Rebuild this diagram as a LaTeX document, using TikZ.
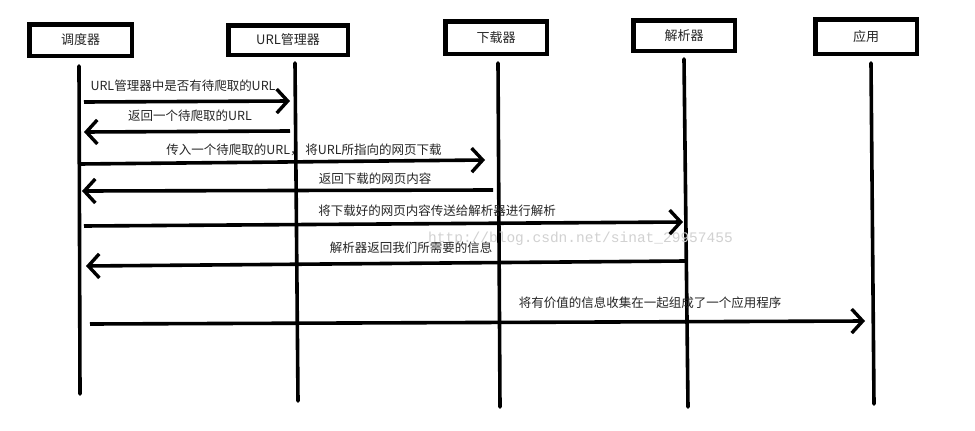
\documentclass[tikz,border=0pt]{standalone}
\usepackage{fontspec}
\setmainfont{Noto Sans CJK SC}
\newfontfamily\wmfont{Liberation Mono}
\usetikzlibrary{arrows.meta}
\tikzset{
  actor/.style={draw=black, line width=4.5pt, fill=white, inner sep=0pt, font=\fontsize{13}{15}\selectfont, text=black!85},
  lifeline/.style={line width=3.6pt, line cap=round},
  msg/.style={line width=3.6pt, -{Straight Barb[length=11pt,width=24pt,line width=3.4pt]}},
  msglabel/.style={font=\fontsize{12.5}{14}\selectfont, text=black!85, inner sep=0pt}
}
\begin{document}
\begin{tikzpicture}[x=1pt,y=-1pt]
\useasboundingbox[fill=white] (0,0) rectangle (975,431);
% actors
\node[actor, minimum width=102.5pt, minimum height=31.5pt] (s) at (80.5,40) {调度器};
\node[actor, minimum width=119.5pt, minimum height=29.5pt] (u) at (288,40) {URL管理器};
\node[actor, minimum width=101.5pt, minimum height=32.5pt] (d) at (496,37.5) {下载器};
\node[actor, minimum width=101.5pt, minimum height=30.5pt] (p) at (684,35.5) {解析器};
\node[actor, minimum width=101.5pt, minimum height=34.5pt] (a) at (866,36.5) {应用};
% lifelines
\coordinate (s1) at (79,66);  \coordinate (s2) at (80,394);
\coordinate (u1) at (295,63); \coordinate (u2) at (298,401);
\coordinate (d1) at (498,63); \coordinate (d2) at (500,407);
\coordinate (p1) at (684,59); \coordinate (p2) at (688,407);
\coordinate (a1) at (871,63); \coordinate (a2) at (874,404);
\draw[lifeline] (s1) -- (s2);
\draw[lifeline] (u1) -- (u2);
\draw[lifeline] (d1) -- (d2);
\draw[lifeline] (p1) -- (p2);
\draw[lifeline] (a1) -- (a2);
% watermark
\node[font=\wmfont\fontsize{14.5}{16}\selectfont, text=black!18, anchor=west, inner sep=0pt] (wm) at (428,239) {http://blog.csdn.net/sinat\_29957455};
% messages
\coordinate (m1a) at (84,102);  \coordinate (m1b) at (290,101);
\coordinate (m2a) at (290,131); \coordinate (m2b) at (84,132);
\coordinate (m3a) at (80,164);  \coordinate (m3b) at (485,160);
\coordinate (m4a) at (493,190); \coordinate (m4b) at (82,191);
\coordinate (m5a) at (84,226);  \coordinate (m5b) at (683,222);
\coordinate (m6a) at (685,261); \coordinate (m6b) at (86,266);
\coordinate (m7a) at (90,324);  \coordinate (m7b) at (865,321);
\draw[msg] (m1a) -- (m1b);
\draw[msg] (m2a) -- (m2b);
\draw[msg] (m3a) -- (m3b);
\draw[msg] (m4a) -- (m4b);
\draw[msg] (m5a) -- (m5b);
\draw[msg] (m6a) -- (m6b);
\draw[msg] (m7a) -- (m7b);
% labels
\node[msglabel] (l1) at (183,86) {URL管理器中是否有待爬取的URL};
\node[msglabel] (l2) at (190,116) {返回一个待爬取的URL};
\node[msglabel] (l3) at (304,150) {传入一个待爬取的URL，\ 将URL所指向的网页下载};
\node[msglabel] (l4) at (375,179) {返回下载的网页内容};
\node[msglabel] (l5) at (437,211) {将下载好的网页内容传送给解析器进行解析};
\node[msglabel] (l6) at (411,248) {解析器返回我们所需要的信息};
\node[msglabel] (l7) at (650,303) {将有价值的信息收集在一起组成了一个应用程序};
\end{tikzpicture}
\end{document}
